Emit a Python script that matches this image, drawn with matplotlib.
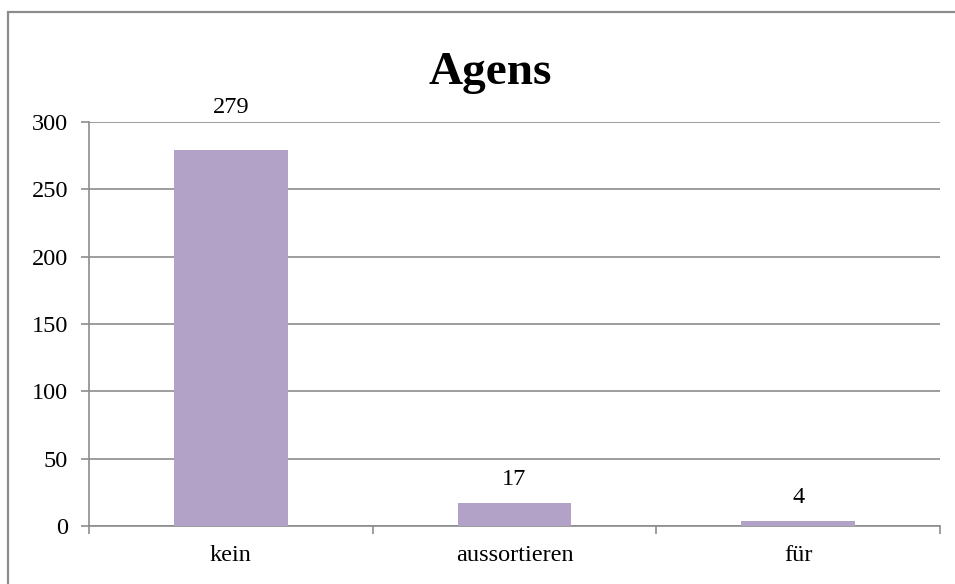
import matplotlib
matplotlib.use("Agg")
import matplotlib.pyplot as plt
from matplotlib.patches import Rectangle

categories = ["kein", "aussortieren", "für"]
values = [279, 17, 4]
yticks = [0, 50, 100, 150, 200, 250, 300]

plt.rcParams["font.family"] = ["Liberation Serif", "DejaVu Serif"]

W, H = 955, 584
fig = plt.figure(figsize=(W / 100, H / 100), dpi=100)

# outer frame of the chart object (only left and top edges visible)
fig.patches.append(Rectangle((8 / W, -0.05), 1.0, 1.05 - 12 / H, transform=fig.transFigure,
                             fill=False, edgecolor="#8c8c8c", linewidth=1.6))

ax = fig.add_axes([89 / W, (H - 526) / H, (940 - 89) / W, (526 - 122) / H])
x = range(len(categories))
bars = ax.bar(x, values, width=0.4, color="#b3a2c7", zorder=3)
ymax = yticks[-1]
for b, v in zip(bars, values):
    cx = b.get_x() + b.get_width() / 2
    # label sits just above the bar, or above the plot area if it would touch the top
    if v > ymax * 0.85:
        ax.annotate(str(v), (cx, ymax), xytext=(0, 6.5), textcoords="offset points",
                    ha="center", va="baseline", fontsize=17.5, annotation_clip=False)
    else:
        ax.annotate(str(v), (cx, v), xytext=(0, 13), textcoords="offset points",
                    ha="center", va="baseline", fontsize=17.5)

ax.set_xlim(-0.5, len(categories) - 0.5)
ax.set_ylim(0, ymax)
ax.set_yticks(yticks)
ax.yaxis.grid(True, color="#8c8c8c", linewidth=1.2, zorder=0)
ax.set_xticks(list(x))
ax.set_xticklabels(categories, fontsize=17.5)
ax.tick_params(axis="x", length=0, pad=14)
ax.set_xticks([i - 0.5 for i in range(len(categories) + 1)], minor=True)
ax.tick_params(axis="x", which="minor", length=6, color="#8c8c8c", width=1.2)
ax.tick_params(axis="y", length=6, color="#8c8c8c", width=1.2, labelsize=17.5, pad=9)

for s in ["top", "right"]:
    ax.spines[s].set_visible(False)
for s in ["left", "bottom"]:
    ax.spines[s].set_color("#8c8c8c")
    ax.spines[s].set_linewidth(1.2)

fig.text(490 / W, 1 - 84 / H, "Agens", ha="center", va="baseline", fontsize=34, fontweight="bold")

fig.savefig("out.png", dpi=100)
